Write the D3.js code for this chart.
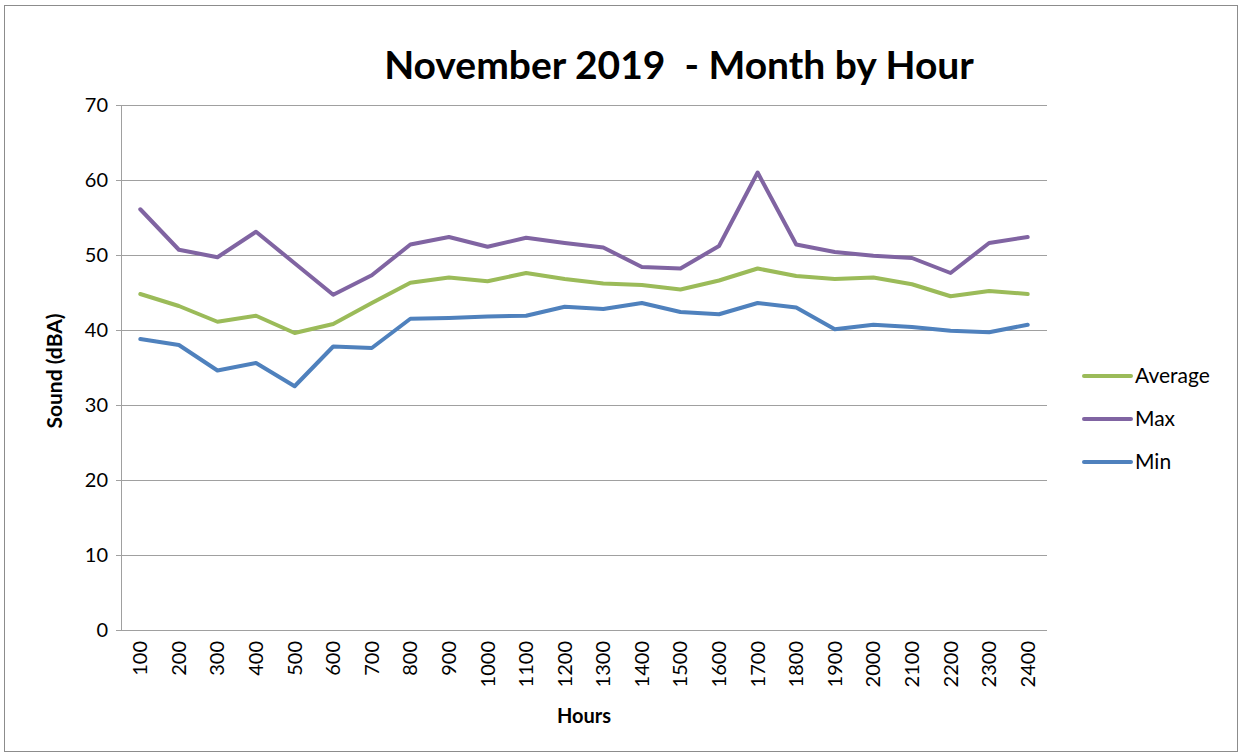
<!DOCTYPE html>
<html>
<head>
<meta charset="utf-8">
<script src="https://cdn.jsdelivr.net/npm/d3@7"></script>
<style>
  body { margin: 0; background: #fff; }
  text { font-family: Lato, "Open Sans", sans-serif; }
</style>
</head>
<body>
<script>
var hours = ["100","200","300","400","500","600","700","800","900","1000","1100","1200",
  "1300","1400","1500","1600","1700","1800","1900","2000","2100","2200","2300","2400"];
var average = [44.8,43.2,41.1,41.9,39.6,40.8,43.6,46.3,47.0,46.5,47.6,46.8,
  46.2,46.0,45.4,46.6,48.2,47.2,46.8,47.0,46.1,44.5,45.2,44.8];
var max = [56.1,50.7,49.7,53.1,48.9,44.7,47.3,51.4,52.4,51.1,52.3,51.6,
  51.0,48.4,48.2,51.2,61.0,51.4,50.4,49.9,49.6,47.6,51.6,52.4];
var min = [38.8,38.0,34.6,35.6,32.5,37.8,37.6,41.5,41.6,41.8,41.9,43.1,
  42.8,43.6,42.4,42.1,43.6,43.0,40.1,40.7,40.4,39.9,39.7,40.7];
var yTicks = [0,10,20,30,40,50,60,70];
var series = [
  {name: "Average", values: average, color: "#9bbb59"},
  {name: "Max", values: max, color: "#8064a2"},
  {name: "Min", values: min, color: "#4f81bd"}
];

var w = 1244, h = 755;
var plotLeft = 121, plotRight = 1047, plotTop = 105, plotBottom = 630;

var svg = d3.select("body").append("svg").attr("width", w).attr("height", h);

// outer frame
svg.append("rect").attr("x", 4.5).attr("y", 5.5).attr("width", 1233).attr("height", 746)
  .attr("fill", "#fff").attr("stroke", "#8c8c8c").attr("stroke-width", 1);

var x = d3.scaleBand().domain(hours).range([plotLeft, plotRight]);
var y = d3.scaleLinear().domain([0, 70]).range([plotBottom, plotTop]);

// gridlines
svg.selectAll("line.grid").data(yTicks).enter().append("line")
  .attr("class", "grid")
  .attr("x1", plotLeft - 5).attr("x2", plotRight)
  .attr("y1", function(d) { return Math.round(y(d)) + 0.5; })
  .attr("y2", function(d) { return Math.round(y(d)) + 0.5; })
  .attr("stroke", "#a0a0a0").attr("stroke-width", 1);

// y axis line
svg.append("line").attr("x1", plotLeft + 0.5).attr("x2", plotLeft + 0.5)
  .attr("y1", plotTop).attr("y2", plotBottom + 0.5)
  .attr("stroke", "#a0a0a0");

// y labels
svg.selectAll("text.ytick").data(yTicks).enter().append("text")
  .attr("class", "ytick")
  .attr("x", 108).attr("y", function(d) { return y(d) + 7; })
  .attr("text-anchor", "end").attr("font-size", 20).attr("fill", "#000")
  .text(function(d) { return d; });

// x labels
svg.selectAll("text.xtick").data(hours).enter().append("text")
  .attr("class", "xtick")
  .attr("transform", function(d) {
    return "translate(" + (x(d) + x.bandwidth() / 2 + 7) + "," + (plotBottom + 11) + ") rotate(-90)";
  })
  .attr("text-anchor", "end").attr("font-size", 20).attr("fill", "#000")
  .text(function(d) { return d; });

// lines
var line = d3.line()
  .x(function(d, i) { return x(hours[i]) + x.bandwidth() / 2; })
  .y(function(d) { return y(d); });

svg.selectAll("path.series").data(series).enter().append("path")
  .attr("class", "series")
  .attr("d", function(d) { return line(d.values); })
  .attr("fill", "none")
  .attr("stroke", function(d) { return d.color; })
  .attr("stroke-width", 4)
  .attr("stroke-linejoin", "round")
  .attr("stroke-linecap", "round");

// title
svg.append("text").attr("x", 679).attr("y", 79)
  .attr("text-anchor", "middle").attr("font-size", 39).attr("font-weight", "bold")
  .style("white-space", "pre")
  .text("November 2019  - Month by Hour");

// axis titles
svg.append("text").attr("x", 584).attr("y", 723)
  .attr("text-anchor", "middle").attr("font-size", 20).attr("font-weight", "bold")
  .text("Hours");
svg.append("text")
  .attr("transform", "translate(62,371) rotate(-90)")
  .attr("text-anchor", "middle").attr("font-size", 21).attr("font-weight", "bold")
  .text("Sound (dBA)");

// legend
var legend = svg.selectAll("g.legend").data(series).enter().append("g")
  .attr("class", "legend")
  .attr("transform", function(d, i) { return "translate(1084," + (376 + i * 43) + ")"; });
legend.append("line").attr("x1", 0).attr("x2", 47).attr("y1", 0).attr("y2", 0)
  .attr("stroke", function(d) { return d.color; }).attr("stroke-width", 4)
  .attr("stroke-linecap", "round");
legend.append("text").attr("x", 51).attr("y", 7).attr("font-size", 21)
  .text(function(d) { return d.name; });
</script>
</body>
</html>
